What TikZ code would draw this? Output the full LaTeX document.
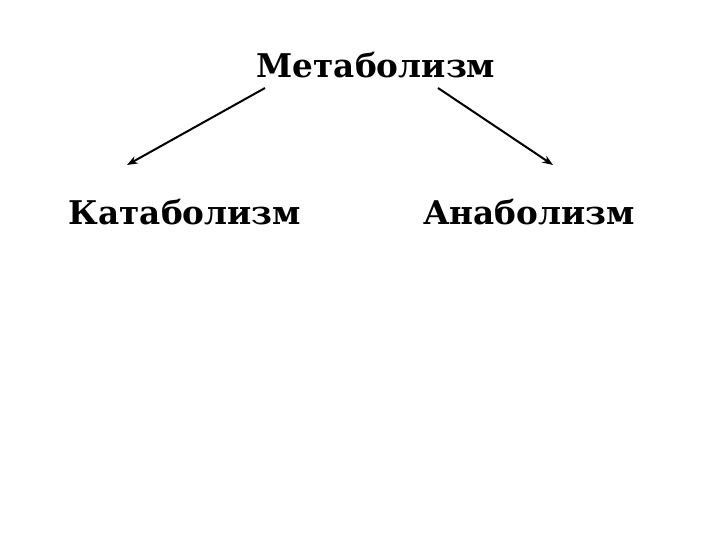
\documentclass[tikz,border=0pt]{standalone}
\usepackage{fontspec}
\setmainfont{DejaVu Serif}
\usetikzlibrary{arrows.meta}

\begin{document}
\begin{tikzpicture} [x=0.75pt, y=-0.75pt, font=\bfseries\fontsize{24.5}{28}\selectfont,
    link/.style={-{Stealth[length=8pt,width=6pt]}, line width=1.5pt}]
  \useasboundingbox (0,0) rectangle (720,540);

  \draw (376,65) node (met) {Метаболизм};
  \draw (185,212) node (kat) {Катаболизм};
  \draw (529,212) node (ana) {Анаболизм};

  \coordinate (metl) at (265,88);  \coordinate (katt) at (127,165);
  \coordinate (metr) at (438,88);  \coordinate (anat) at (553,165);

  \path (metl) edge[link] (katt)
        (metr) edge[link] (anat);
\end{tikzpicture}
\end{document}
